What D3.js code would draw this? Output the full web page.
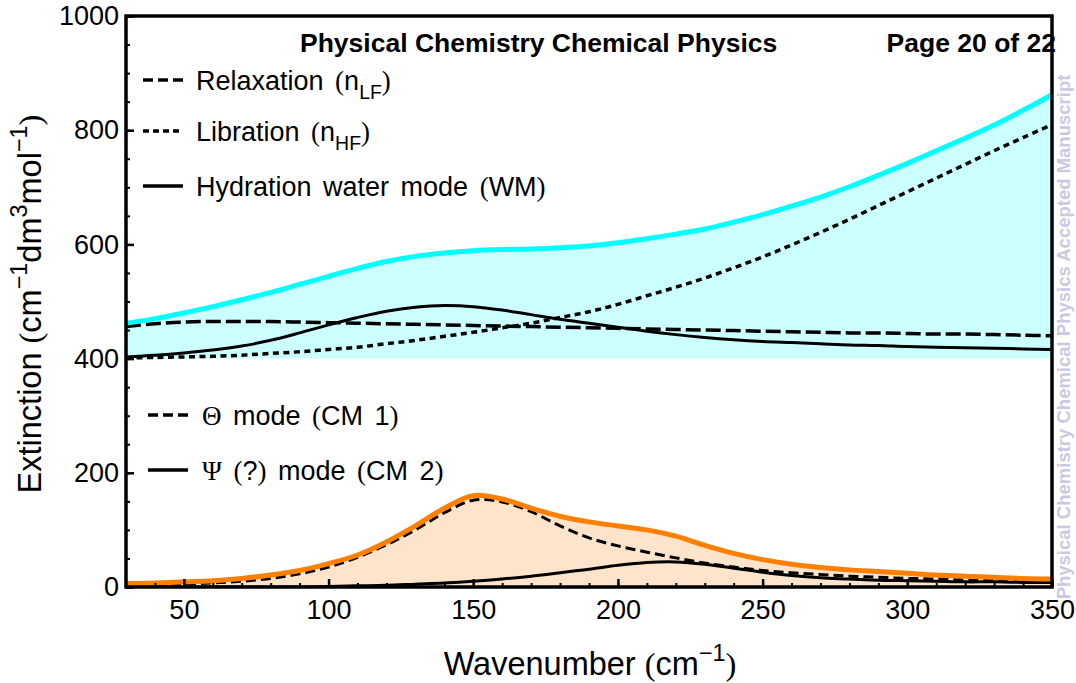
<!DOCTYPE html>
<html>
<head>
<meta charset="utf-8">
<script src="https://cdn.jsdelivr.net/npm/d3@7"></script>
<style>
    body { margin: 0; background: #fff; }
    svg text { font-family: "Liberation Sans", Arial, sans-serif; fill: #000; }
    .serif { font-family: "Liberation Serif", "Times New Roman", serif; }
</style>
</head>
<body>
<svg id="chart"></svg>
<script>
// values, one entry per wavenumber
const wavenumber = [30, 40, 50, 60, 70, 80, 90, 100, 110, 120, 130, 140, 150, 160, 170, 180, 190,
    200, 210, 220, 230, 240, 250, 260, 270, 280, 290, 300, 310, 320, 330, 340, 350];

const relaxation = [456, 461, 464, 465, 465, 465, 464, 463, 462, 461, 460, 459, 458, 457, 456, 455, 454,
    453, 452, 451, 450, 449, 448, 447, 446, 445, 445, 444, 443, 443, 442, 441, 440];
const libration = [401, 402, 403, 404, 406, 409, 412, 416, 420, 426, 432, 439, 446, 454, 462, 472, 482,
    495, 510, 525, 541, 559, 578, 599, 621, 644, 668, 692, 716, 740, 764, 787, 810];
const hydrationWM = [403, 406, 410, 415, 422, 432, 445, 459, 472, 483, 490, 493, 491, 485, 477, 469, 462,
    455, 448, 442, 437, 433, 430, 428, 426, 424, 423, 421, 420, 419, 418, 417, 416];
const upperTotal = [462, 470, 480, 491, 503, 516, 530, 544, 558, 570, 579, 585, 589, 591, 592, 594, 597,
    603, 610, 618, 627, 639, 652, 667, 683, 701, 721, 742, 764, 786, 809, 835, 862];

const thetaCM1 = [2, 3, 5, 7, 10, 15, 23, 35, 52, 74, 100, 130, 152, 149, 132, 107, 86,
    72, 61, 51, 42, 35, 29, 25, 22, 19, 17, 15, 14, 12, 11, 10, 9];
const psiCM2 = [0, 0, 0, 0, 0, 0, 0, 1, 2, 3, 5, 7, 10, 14, 19, 25, 31,
    38, 43, 44, 40, 33, 26, 20, 16, 14, 12, 11, 10, 9, 9, 8, 8];
const lowerTotal = [6, 7, 9, 11, 15, 21, 29, 41, 56, 79, 107, 138, 160, 154, 138, 124, 114,
    107, 100, 89, 73, 59, 48, 40, 34, 30, 27, 24, 21, 19, 17, 15, 14];

const upperBase = 400;

const xTicks = [50, 100, 150, 200, 250, 300, 350];
const xMinorTicks = d3.range(40, 351, 10);
const yTicks = [0, 200, 400, 600, 800, 1000];
const yMinorTicks = d3.range(0, 1001, 50);

const headerLeft = "Physical Chemistry Chemical Physics";
const headerRight = "Page 20 of 22";
const watermark = "Physical Chemistry Chemical Physics Accepted Manuscript";

const width = 1076;
const height = 683;
const margin = ({ top: 16, right: 1076 - 1052, bottom: 683 - 587, left: 126 });

const svg = d3.select("#chart")
    .attr("width", width)
    .attr("height", height);

const x = d3.scaleLinear()
    .domain([30, 350])
    .range([margin.left, width - margin.right]);

const y = d3.scaleLinear()
    .domain([0, 1000])
    .range([height - margin.bottom, margin.top]);

// helper: write text made of sans / serif / sub / sup pieces
function richText(sel, parts, size) {
    let shift = 0;
    parts.forEach(p => {
        const t = sel.append("tspan").text(p.t);
        let target = 0;
        if (p.sub) target = size * 0.32;
        if (p.sup) target = -size * 0.42;
        if (target !== shift) t.attr("dy", target - shift);
        shift = target;
        if (p.sub || p.sup) t.attr("font-size", size * 0.72);
        if (p.serif) t.attr("class", "serif");
    });
}

svg.append("clipPath")
    .attr("id", "plot-clip")
    .append("rect")
    .attr("x", x(30))
    .attr("y", y(1000))
    .attr("width", x(350) - x(30))
    .attr("height", y(0) - y(1000));

const plot = svg.append("g").attr("clip-path", "url(#plot-clip)");

const upperRows = wavenumber.map((w, i) => ({ w: w, r: relaxation[i], l: libration[i], h: hydrationWM[i], t: upperTotal[i] }));
const lowerRows = wavenumber.map((w, i) => ({ w: w, a: thetaCM1[i], b: psiCM2[i], t: lowerTotal[i] }));

const curve = d3.curveCatmullRom.alpha(0.5);

// fills
plot.append("path")
    .datum(upperRows)
    .attr("d", d3.area().x(d => x(d.w)).y0(y(upperBase)).y1(d => y(d.t)).curve(curve))
    .attr("fill", "#ccffff");

plot.append("path")
    .datum(lowerRows)
    .attr("d", d3.area().x(d => x(d.w)).y0(y(0)).y1(d => y(d.t)).curve(curve))
    .attr("fill", "#ffe4cc");

function line(key) {
    return d3.line().x(d => x(d.w)).y(d => y(d[key])).curve(curve);
}

// component lines
plot.append("path").datum(upperRows).attr("d", line("h"))
    .attr("fill", "none").attr("stroke", "#000").attr("stroke-width", 3);
plot.append("path").datum(upperRows).attr("d", line("r"))
    .attr("fill", "none").attr("stroke", "#000").attr("stroke-width", 3.5)
    .attr("stroke-dasharray", "15,5");
plot.append("path").datum(upperRows).attr("d", line("l"))
    .attr("fill", "none").attr("stroke", "#000").attr("stroke-width", 3.5)
    .attr("stroke-dasharray", "6,4.5");

plot.append("path").datum(lowerRows).attr("d", line("b"))
    .attr("fill", "none").attr("stroke", "#000").attr("stroke-width", 3);
plot.append("path").datum(lowerRows).attr("d", line("a"))
    .attr("fill", "none").attr("stroke", "#000").attr("stroke-width", 3)
    .attr("stroke-dasharray", "10,5");

// totals
plot.append("path").datum(upperRows).attr("d", line("t"))
    .attr("fill", "none").attr("stroke", "#00ffff").attr("stroke-width", 5);
plot.append("path").datum(lowerRows).attr("d", line("t"))
    .attr("fill", "none").attr("stroke", "#ff8000").attr("stroke-width", 5);

// header text (drawn under the frame)
svg.append("text")
    .attr("x", 300).attr("y", 52)
    .attr("font-size", 26.5).attr("font-weight", "bold")
    .text(headerLeft);
svg.append("text")
    .attr("x", 1056).attr("y", 52)
    .attr("text-anchor", "end")
    .attr("font-size", 26.5).attr("font-weight", "bold")
    .text(headerRight);

// axes, ticks pointing inward
const xAxis = g => g
    .attr("transform", `translate(0,${y(0)})`)
    .call(d3.axisBottom(x).tickValues(xTicks).tickSize(-8).tickPadding(13))
    .call(g => g.select(".domain").remove())
    .call(g => g.selectAll(".tick line").attr("stroke-width", 2.5))
    .call(g => g.selectAll("text").attr("font-size", 27).attr("font-family", null));

const xMinor = g => g
    .attr("transform", `translate(0,${y(0)})`)
    .call(d3.axisBottom(x).tickValues(xMinorTicks).tickSize(-4).tickFormat(""))
    .call(g => g.select(".domain").remove())
    .call(g => g.selectAll(".tick line").attr("stroke-width", 2));

const yAxis = g => g
    .attr("transform", `translate(${x(30)},0)`)
    .call(d3.axisLeft(y).tickValues(yTicks).tickSize(-8).tickPadding(7).tickFormat(d3.format("d")))
    .call(g => g.select(".domain").remove())
    .call(g => g.selectAll(".tick line").attr("stroke-width", 2.5))
    .call(g => g.selectAll("text").attr("font-size", 27).attr("font-family", null));

const yMinor = g => g
    .attr("transform", `translate(${x(30)},0)`)
    .call(d3.axisLeft(y).tickValues(yMinorTicks).tickSize(-4).tickFormat(""))
    .call(g => g.select(".domain").remove())
    .call(g => g.selectAll(".tick line").attr("stroke-width", 2));

svg.append("g").call(xMinor);
svg.append("g").call(yMinor);
svg.append("g").call(xAxis);
svg.append("g").call(yAxis);

// frame
svg.append("rect")
    .attr("x", x(30)).attr("y", y(1000))
    .attr("width", x(350) - x(30))
    .attr("height", y(0) - y(1000))
    .attr("fill", "none")
    .attr("stroke", "#000")
    .attr("stroke-width", 3.5);

// axis titles
richText(svg.append("text")
    .attr("x", 590).attr("y", 675)
    .attr("text-anchor", "middle")
    .attr("font-size", 32.5),
    [{ t: "Wavenumber " }, { t: "(", serif: true }, { t: "cm" }, { t: "−1", sup: true }, { t: ")", serif: true }], 32.5);

richText(svg.append("text")
    .attr("transform", "translate(41,304) rotate(-90)")
    .attr("text-anchor", "middle")
    .attr("font-size", 32.5),
    [{ t: "Extinction " }, { t: "(", serif: true }, { t: "cm" }, { t: "−1", sup: true }, { t: "dm" }, { t: "3", sup: true },
     { t: "mol" }, { t: "−1", sup: true }, { t: ")", serif: true }], 32.5);

// legends
const upperLegend = [
    [{ t: "Relaxation " }, { t: "(", serif: true }, { t: "n" }, { t: "LF", sub: true }, { t: ")", serif: true }],
    [{ t: "Libration " }, { t: "(", serif: true }, { t: "n" }, { t: "HF", sub: true }, { t: ")", serif: true }],
    [{ t: "Hydration water mode " }, { t: "(", serif: true }, { t: "WM" }, { t: ")", serif: true }]
];
const upperDash = ["10,5", "6,4", null];
const upperRowY = [80, 131, 186];

const lowerLegend = [
    [{ t: "Θ", serif: true }, { t: " mode " }, { t: "(", serif: true }, { t: "CM 1" }, { t: ")", serif: true }],
    [{ t: "Ψ", serif: true }, { t: " " }, { t: "(", serif: true }, { t: "?" }, { t: ")", serif: true }, { t: " mode " },
     { t: "(", serif: true }, { t: "CM 2" }, { t: ")", serif: true }]
];
const lowerDash = ["10,5", null];
const lowerRowY = [415, 470];

function legend(items, dashes, rows, x0, tx) {
    items.forEach((parts, i) => {
        svg.append("line")
            .attr("x1", x0).attr("x2", x0 + 40)
            .attr("y1", rows[i]).attr("y2", rows[i])
            .attr("stroke", "#000").attr("stroke-width", 3.5)
            .attr("stroke-dasharray", dashes[i]);
        richText(svg.append("text")
            .attr("x", tx).attr("y", rows[i] + 10)
            .attr("font-size", 27)
            .attr("word-spacing", 4), parts, 27);
    });
}
legend(upperLegend, upperDash, upperRowY, 143, 196);
legend(lowerLegend, lowerDash, lowerRowY, 148, 202);

// watermark on the right edge
svg.append("text")
    .attr("transform", "translate(1070,337) rotate(-90)")
    .attr("text-anchor", "middle")
    .attr("font-size", 18.5)
    .attr("font-weight", "bold")
    .style("fill", "#c9c9e2")
    .text(watermark);
</script>
</body>
</html>
